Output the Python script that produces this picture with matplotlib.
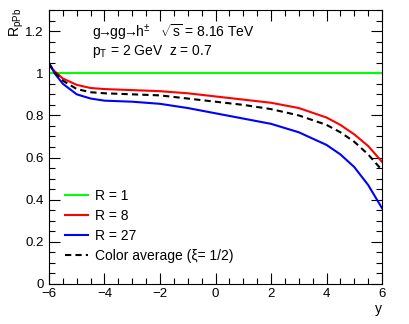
import matplotlib
matplotlib.use("Agg")
import matplotlib.pyplot as plt
from matplotlib.ticker import MultipleLocator, FuncFormatter

plt.rcParams['font.family'] = ['Liberation Sans', 'DejaVu Sans']
plt.rcParams['font.size'] = 10
plt.rcParams['mathtext.fontset'] = 'custom'
plt.rcParams['mathtext.rm'] = 'Liberation Sans'

y_rap = [-6, -5.8, -5.5, -5, -4.5, -4, -3, -2, -1, 0, 1, 2, 3, 4, 4.5, 5, 5.5, 6]
r_1 = [1.0] * len(y_rap)
r_8 = [1.04, 1.01, 0.975, 0.945, 0.93, 0.925, 0.92, 0.915, 0.905, 0.89, 0.875, 0.86,
       0.835, 0.79, 0.755, 0.71, 0.655, 0.58]
r_27 = [1.05, 1.0, 0.95, 0.9, 0.88, 0.87, 0.865, 0.855, 0.835, 0.81, 0.785, 0.76,
        0.72, 0.66, 0.615, 0.555, 0.47, 0.36]
r_avg = [1.045, 1.005, 0.965, 0.925, 0.91, 0.905, 0.90, 0.895, 0.88, 0.865, 0.85, 0.83,
         0.80, 0.755, 0.72, 0.675, 0.615, 0.54]

fig = plt.figure(figsize=(4.09, 3.24), dpi=100)
ax = fig.add_axes([0.1198, 0.1235, 0.8142, 0.8455])

ax.plot(y_rap, r_1, color='#00ff00', lw=1.5, label='R = 1')
ax.plot(y_rap, r_8, color='#ff0000', lw=1.5, label='R = 8')
ax.plot(y_rap, r_27, color='#0000ff', lw=1.5, label='R = 27')
ax.plot(y_rap, r_avg, color='black', lw=1.5, ls=(0, (3, 2)), label='Color average (ξ= 1/2)')

ax.set_xlim(-6, 6)
ax.set_ylim(0, 1.3)
ax.xaxis.set_major_locator(MultipleLocator(2))
ax.xaxis.set_minor_locator(MultipleLocator(0.5))
ax.yaxis.set_major_locator(MultipleLocator(0.2))
ax.yaxis.set_minor_locator(MultipleLocator(0.05))
ax.yaxis.set_major_formatter(FuncFormatter(lambda v, p: '%g' % round(v, 2)))
ax.xaxis.set_major_formatter(FuncFormatter(lambda v, p: ('%g' % v).replace('-', '\u2212')))
ax.tick_params(which='both', direction='in', top=True, right=True, width=0.8, labelsize=9.5)
ax.tick_params(axis='x', pad=3)
ax.tick_params(axis='y', pad=4)
ax.tick_params(which='major', length=8)
ax.tick_params(which='minor', length=4)
for s in ax.spines.values():
    s.set_linewidth(0.8)

ax.text(0.13, 0.92, r'g$\!\!\rightarrow\!\!$gg$\!\!\rightarrow\!\!$h$^{\pm}$   $\sqrt{\rm s}$ = 8.16 TeV',
        transform=ax.transAxes, va='center')
ax.text(0.13, 0.85, r'p$_{\rm T}$ = 2 GeV  z = 0.7', transform=ax.transAxes, va='center')

fig.text(0.018, 0.975, r'R$_{\rm pPb}$', rotation=90, ha='left', va='top')
fig.text(0.935, 0.025, 'y', ha='right', va='bottom')

ax.legend(loc='lower left', bbox_to_anchor=(0.01, 0.03), frameon=False,
          handlelength=1.7, handletextpad=0.45, labelspacing=0.45)

fig.savefig('out.png', dpi=100)
